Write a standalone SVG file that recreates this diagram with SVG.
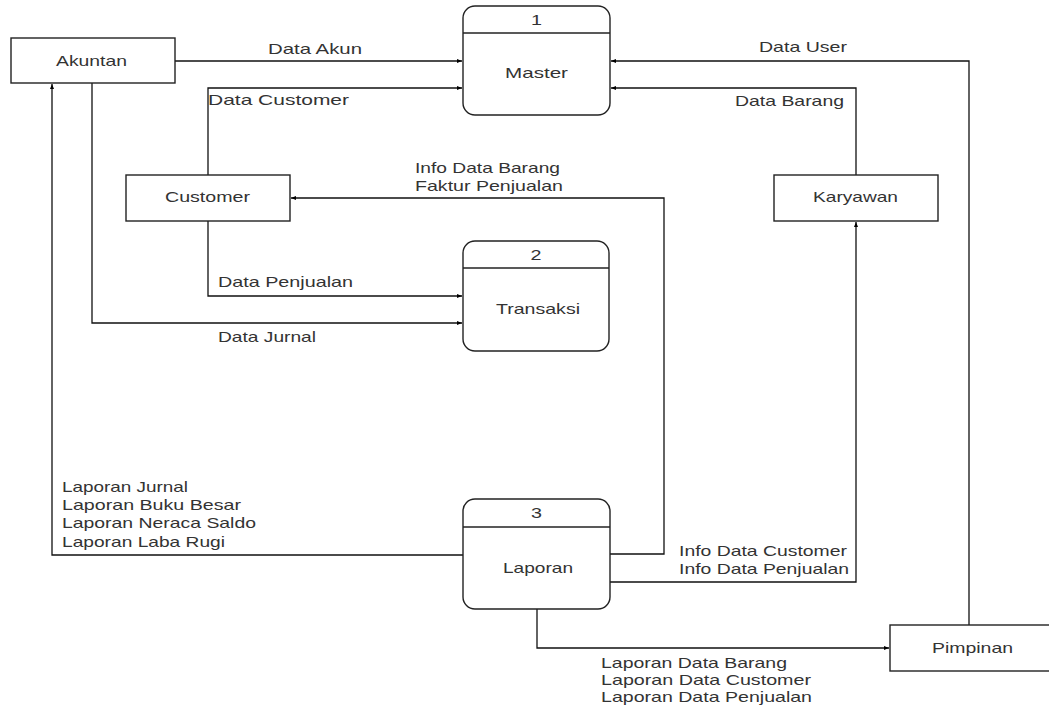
<svg xmlns="http://www.w3.org/2000/svg" width="1049" height="709" viewBox="0 0 1049 709">
<defs>
<marker id="arr" viewBox="0 0 10 10" refX="10" refY="5" markerWidth="5" markerHeight="5" orient="auto" markerUnits="userSpaceOnUse">
<path d="M0,1 L10,5 L0,9 z" fill="#000"/>
</marker>
<style>
.box{fill:#fff;stroke:#222;stroke-width:1.4}
.proc{fill:#fff;stroke:#222;stroke-width:1.4}
.div{stroke:#222;stroke-width:1.4}
.t{font-family:"Liberation Sans",Arial,sans-serif;font-size:14.5px;fill:#333}
.line{fill:none;stroke:#111;stroke-width:1.3;marker-end:url(#arr)}
</style>
</defs>
<rect width="1049" height="709" fill="#fff"/>
<g id="connectors">
<path class="line" d="M175,61 H462"/>
<path class="line" d="M208,175 V88 H462"/>
<path class="line" d="M969,625 V61 H611"/>
<path class="line" d="M856,175 V88 H611"/>
<path class="line" d="M610,554 H664 V198 H291"/>
<path class="line" d="M208,221 V296 H462"/>
<path class="line" d="M92,83 V323 H462"/>
<path class="line" d="M463,555 H52 V84"/>
<path class="line" d="M610,582 H856 V222"/>
<path class="line" d="M537,609 V648 H889"/>
</g>
<g id="labels">
<text class="t" x="268" y="54" textLength="94" lengthAdjust="spacingAndGlyphs">Data Akun</text>
<text class="t" x="208" y="105" textLength="141" lengthAdjust="spacingAndGlyphs">Data Customer</text>
<text class="t" x="759" y="52" textLength="88" lengthAdjust="spacingAndGlyphs">Data User</text>
<text class="t" x="735" y="106" textLength="109" lengthAdjust="spacingAndGlyphs">Data Barang</text>
<text class="t" x="415" y="173" textLength="145" lengthAdjust="spacingAndGlyphs">Info Data Barang</text>
<text class="t" x="415" y="191" textLength="148" lengthAdjust="spacingAndGlyphs">Faktur Penjualan</text>
<text class="t" x="218" y="287" textLength="135" lengthAdjust="spacingAndGlyphs">Data Penjualan</text>
<text class="t" x="218" y="342" textLength="98" lengthAdjust="spacingAndGlyphs">Data Jurnal</text>
<text class="t" x="62" y="492" textLength="126" lengthAdjust="spacingAndGlyphs">Laporan Jurnal</text>
<text class="t" x="62" y="510" textLength="179" lengthAdjust="spacingAndGlyphs">Laporan Buku Besar</text>
<text class="t" x="62" y="528" textLength="194" lengthAdjust="spacingAndGlyphs">Laporan Neraca Saldo</text>
<text class="t" x="62" y="547" textLength="163" lengthAdjust="spacingAndGlyphs">Laporan Laba Rugi</text>
<text class="t" x="679" y="556" textLength="168" lengthAdjust="spacingAndGlyphs">Info Data Customer</text>
<text class="t" x="679" y="574" textLength="170" lengthAdjust="spacingAndGlyphs">Info Data Penjualan</text>
<text class="t" x="601" y="668" textLength="186" lengthAdjust="spacingAndGlyphs">Laporan Data Barang</text>
<text class="t" x="601" y="685" textLength="210" lengthAdjust="spacingAndGlyphs">Laporan Data Customer</text>
<text class="t" x="601" y="702" textLength="211" lengthAdjust="spacingAndGlyphs">Laporan Data Penjualan</text>
</g>
<g id="akuntan">
<rect class="box" x="11" y="38" width="164" height="45"/>
<text class="t" x="56" y="66" textLength="71" lengthAdjust="spacingAndGlyphs">Akuntan</text>
</g>
<g id="customer">
<rect class="box" x="126" y="175" width="164" height="46"/>
<text class="t" x="165" y="202" textLength="85" lengthAdjust="spacingAndGlyphs">Customer</text>
</g>
<g id="karyawan">
<rect class="box" x="774" y="175" width="164" height="46"/>
<text class="t" x="813" y="202" textLength="85" lengthAdjust="spacingAndGlyphs">Karyawan</text>
</g>
<g id="pimpinan">
<rect class="box" x="890" y="625" width="170" height="46"/>
<text class="t" x="932" y="653" textLength="81" lengthAdjust="spacingAndGlyphs">Pimpinan</text>
</g>
<g id="master">
<rect class="proc" x="463" y="6" width="147" height="109" rx="12"/>
<line class="div" x1="463" y1="33" x2="610" y2="33"/>
<text class="t" x="531" y="25" textLength="11" lengthAdjust="spacingAndGlyphs">1</text>
<text class="t" x="505" y="78" textLength="63" lengthAdjust="spacingAndGlyphs">Master</text>
</g>
<g id="transaksi">
<rect class="proc" x="463" y="241" width="146" height="110" rx="12"/>
<line class="div" x1="463" y1="268" x2="609" y2="268"/>
<text class="t" x="530.5" y="260" textLength="11" lengthAdjust="spacingAndGlyphs">2</text>
<text class="t" x="496" y="314" textLength="84" lengthAdjust="spacingAndGlyphs">Transaksi</text>
</g>
<g id="laporan">
<rect class="proc" x="463" y="499" width="147" height="110" rx="12"/>
<line class="div" x1="463" y1="527" x2="610" y2="527"/>
<text class="t" x="531" y="518" textLength="11" lengthAdjust="spacingAndGlyphs">3</text>
<text class="t" x="503" y="573" textLength="70" lengthAdjust="spacingAndGlyphs">Laporan</text>
</g>
</svg>
